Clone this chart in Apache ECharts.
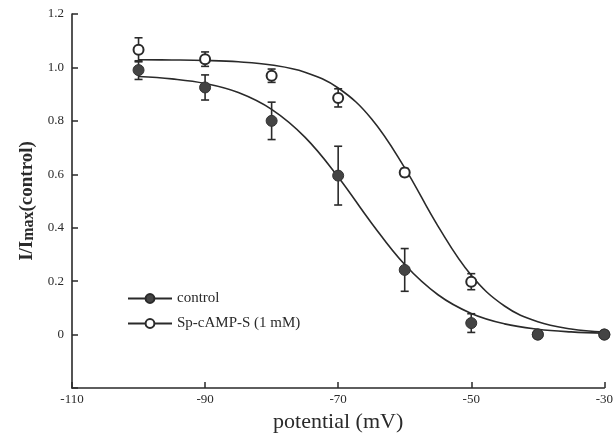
<!DOCTYPE html>
<html>
<head>
<meta charset="utf-8">
<script src="https://cdn.jsdelivr.net/npm/echarts@6/dist/echarts.min.js"></script>
<style>
html,body{margin:0;padding:0;background:#fff;}
#chart{width:616px;height:441px;}
</style>
</head>
<body>
<div id="chart"></div>
<script>
// ---- data ----
var potentials = [-100, -90, -80, -70, -60, -50, -40, -30];
var controlMean = [0.99, 0.925, 0.80, 0.595, 0.242, 0.043, 0.0, 0.0];
var controlErr  = [0.035, 0.047, 0.07, 0.11, 0.08, 0.035, 0, 0];
var spMean = [1.066, 1.031, 0.969, 0.886, 0.607, 0.198, 0.0, 0.0];
var spErr  = [0.045, 0.027, 0.025, 0.034, 0.015, 0.03, 0, 0];

// fitted curves
var curveX = [-100, -95, -90, -85, -80, -75, -70, -65, -60, -55, -50, -45, -40, -35, -30];
var controlCurve = [0.966, 0.957, 0.94, 0.906, 0.843, 0.739, 0.59, 0.418, 0.262, 0.149, 0.079, 0.040, 0.020, 0.010, 0.005];
var spCurve = [1.029, 1.028, 1.026, 1.021, 1.009, 0.982, 0.923, 0.808, 0.624, 0.406, 0.222, 0.107, 0.048, 0.021, 0.009];

var xTicks = [-110, -90, -70, -50, -30];
var yTicks = [0, 0.2, 0.4, 0.6, 0.8, 1.0, 1.2];

function pairs(xs, ys){ return xs.map(function(x,i){ return [x, ys[i]]; }); }
function errRows(xs, m, e){ return xs.map(function(x,i){ return [x, m[i]-e[i], m[i]+e[i]]; }); }

var ink = '#2a2a2a';
var serif = '"Liberation Serif", "DejaVu Serif", serif';

function errorBar(params, api){
  var lo = api.coord([api.value(0), api.value(1)]);
  var hi = api.coord([api.value(0), api.value(2)]);
  if (Math.abs(hi[1]-lo[1]) < 1) return null;
  var w = 4;
  var st = {stroke: ink, lineWidth: 1.6, fill: null};
  return {type:'group', children:[
    {type:'line', shape:{x1:lo[0], y1:lo[1], x2:hi[0], y2:hi[1]}, style:st},
    {type:'line', shape:{x1:lo[0]-w, y1:lo[1], x2:lo[0]+w, y2:lo[1]}, style:st},
    {type:'line', shape:{x1:hi[0]-w, y1:hi[1], x2:hi[0]+w, y2:hi[1]}, style:st}
  ]};
}

var chart = echarts.init(document.getElementById('chart'), null, {renderer:'canvas'});
chart.setOption({
  animation: false,
  backgroundColor: '#fff',
  grid: {left: 72, right: 11, top: 14, bottom: 53, containLabel: false},
  legend: {
    left: 122, top: 286, orient: 'vertical', itemGap: 10,
    itemWidth: 44, itemHeight: 11,
    data: ['control', 'Sp-cAMP-S (1 mM)'],
    textStyle: {fontFamily: serif, fontSize: 15, color: ink}
  },
  xAxis: {
    type: 'value', min: -110, max: -30, interval: 20,
    name: 'potential (mV)', nameLocation: 'middle', nameGap: 20,
    nameTextStyle: {fontFamily: serif, fontSize: 22, color: ink, verticalAlign: 'top'},
    axisLine: {onZero: false, lineStyle: {color: ink, width: 1.6}},
    axisTick: {inside: true, length: 6, lineStyle: {color: ink, width: 1.5}},
    axisLabel: {fontFamily: serif, fontSize: 13, color: ink, margin: 5,
      formatter: function(v){ return xTicks.indexOf(v) >= 0 ? String(v) : ''; }},
    splitLine: {show: false}
  },
  yAxis: {
    type: 'value', min: -0.2, max: 1.2, interval: 0.2,
    name: '{m|I/I}{s|max}{m|(control)}', nameLocation: 'middle', nameGap: 34, nameRotate: 90,
    nameTextStyle: {fontFamily: serif, fontWeight: 'bold', color: ink,
      rich: {
        m: {fontFamily: serif, fontSize: 19, fontWeight: 'bold', color: ink},
        s: {fontFamily: serif, fontSize: 16, fontWeight: 'bold', color: ink, padding: [4, 0, 0, 0]}
      }},
    axisLine: {onZero: false, lineStyle: {color: ink, width: 1.6}},
    axisTick: {inside: true, length: 6, lineStyle: {color: ink, width: 1.5}},
    axisLabel: {fontFamily: serif, fontSize: 13, color: ink, margin: 8,
      formatter: function(v){
        var r = Math.round(v*10)/10;
        if (r < 0) return '';
        if (r === 0) return '0';
        return r.toFixed(1);
      }},
    splitLine: {show: false}
  },
  series: [
    {name: 'control', type: 'line', smooth: 0.4, data: pairs(curveX, controlCurve),
     symbol: 'circle', symbolSize: 10, showSymbol: false, z: 2,
     lineStyle: {color: ink, width: 1.6}, itemStyle: {color: '#444', borderColor: ink, borderWidth: 1}},
    {name: 'Sp-cAMP-S (1 mM)', type: 'line', smooth: 0.4, data: pairs(curveX, spCurve),
     symbol: 'circle', symbolSize: 9, showSymbol: false, z: 2,
     lineStyle: {color: ink, width: 1.6}, itemStyle: {color: '#fff', borderColor: ink, borderWidth: 2}},
    {name: 'spErr', type: 'custom', renderItem: errorBar, data: errRows(potentials, spMean, spErr), z: 3},
    {name: 'controlErr', type: 'custom', renderItem: errorBar, data: errRows(potentials, controlMean, controlErr), z: 3},
    {name: 'Sp-cAMP-S (1 mM)', type: 'scatter', data: pairs(potentials, spMean), symbol: 'circle', symbolSize: 10, z: 4,
     itemStyle: {color: '#fff', borderColor: ink, borderWidth: 2, opacity: 1}},
    {name: 'control', type: 'scatter', data: pairs(potentials, controlMean), symbol: 'circle', symbolSize: 11, z: 5,
     itemStyle: {color: '#444', borderColor: '#333', borderWidth: 1, opacity: 1}}
  ]
});
</script>
</body>
</html>
